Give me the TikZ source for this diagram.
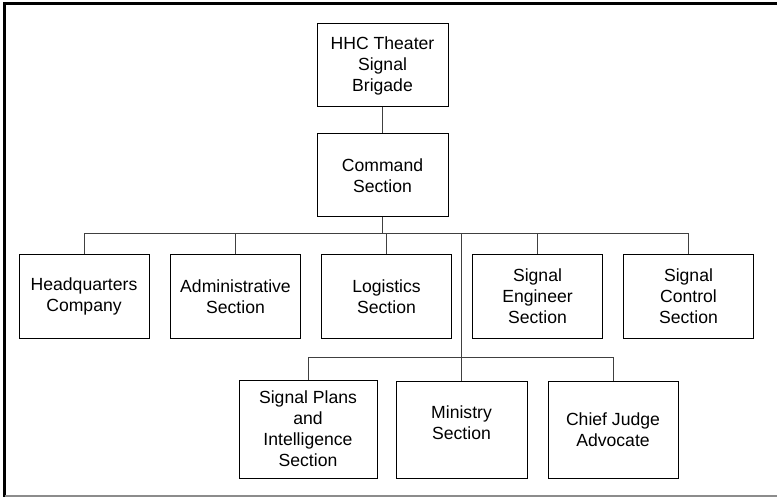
\documentclass[tikz,border=0pt]{standalone}
\usepackage{fontspec}
\setmainfont{Liberation Sans}
\begin{document}
\begin{tikzpicture}[x=1pt,y=-1pt,
  unit/.style={draw,line width=1pt,align=center,inner sep=0pt,
    minimum width=130pt,minimum height=83pt,font=\fontsize{17.6}{21}\selectfont},
  link/.style={line width=1pt,black!75}]

            \useasboundingbox (0,0) rectangle (777,497);
            \draw[line width=3pt] (777,3.5) -- (4.5,3.5) -- (4.5,497);
            \draw[black!45,line width=2pt] (4.5,495.5) -- (777,495.5);

            \node[unit,minimum width=131pt] (hhc) at (382.5,65.5) {HHC Theater\\Signal\\Brigade};
            \node[unit,minimum width=131pt] (cmd) at (382.5,175.5) {Command\\Section};

            \node[unit] (hq) at (84,296.5) {Headquarters\\Company};
            \node[unit] (adm) at (235.5,296.5) {Administrative\\Section};
            \node[unit] (log) at (386.5,296.5) {Logistics\\Section};
            \node[unit] (eng) at (537.5,296.5) {Signal\\Engineer\\Section};
            \node[unit] (ctl) at (688.5,296.5) {Signal\\Control\\Section};

            \node[unit,minimum width=138pt,minimum height=98pt] (spi) at (308,429) {Signal Plans\\and\\Intelligence\\Section};
            \node[unit,minimum width=131pt,minimum height=97pt] (min) at (461.5,429.5) {Ministry\\Section\\[-7pt]\mbox{}};
            \node[unit,minimum height=97pt] (cja) at (613,429.5) {Chief Judge\\Advocate};

            \coordinate (bar1) at (384,234);
            \coordinate (bar2) at (462,357);

            \draw[link] (hhc) -- (cmd);
            \draw[link] (cmd.south) -- (cmd.south |- bar1);
            \draw[link] (hq.north |- bar1) -- (ctl.north |- bar1);
            \foreach \n in {hq,adm,log,eng,ctl}
              \draw[link] (\n.north) -- (\n.north |- bar1);
            \draw[link] (min.north) -- (min.north |- bar1);
            \draw[link] (spi.north |- bar2) -- (cja.north |- bar2);
            \foreach \n in {spi,cja}
              \draw[link] (\n.north) -- (\n.north |- bar2);
            \end{tikzpicture}
\end{document}
